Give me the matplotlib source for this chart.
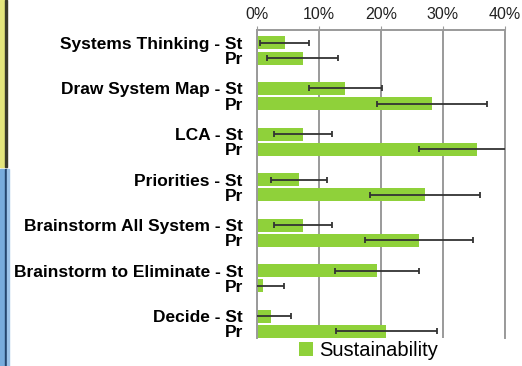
import matplotlib.pyplot as plt
from matplotlib.patches import Rectangle
from matplotlib.ticker import FuncFormatter

# Mittelwerte und Fehler (in %) je Schritt: Studierende (St) und Praktiker (Pr)
schritte = ["Systems Thinking", "Draw System Map", "LCA", "Priorities",
            "Brainstorm All System", "Brainstorm to Eliminate", "Decide"]
st_werte = [4.5, 14.3, 7.5, 6.8, 7.5, 19.4, 2.3]
st_fehler = [4.0, 5.9, 4.7, 4.5, 4.7, 6.8, 3.2]
pr_werte = [7.4, 28.2, 35.5, 27.1, 26.1, 1.0, 20.9]
pr_fehler = [5.7, 8.9, 9.4, 8.9, 8.7, 3.4, 8.1]
x_ticks = [0, 10, 20, 30, 40]

gruen = '#8fd13a'
grau = '#9a9a9a'

plt.rcParams['font.family'] = ['Liberation Sans', 'DejaVu Sans']

fig = plt.figure(figsize=(5.22, 3.66), dpi=100)
ax = fig.add_axes([0.4918, 0.0765, 0.4756, 0.8415])

# je Schritt drei Plätze: St, Pr, Lücke
pos_st = [3 * i for i in range(len(schritte))]
pos_pr = [3 * i + 1 for i in range(len(schritte))]

ax.barh(pos_st, st_werte, height=0.86, color=gruen, label='Sustainability', zorder=2)
ax.barh(pos_pr, pr_werte, height=0.86, color=gruen, zorder=2)
ax.errorbar(st_werte, pos_st, xerr=st_fehler, fmt='none', ecolor='#333333',
            elinewidth=1.3, capsize=2.5, capthick=1.3, zorder=3)
ax.errorbar(pr_werte, pos_pr, xerr=pr_fehler, fmt='none', ecolor='#333333',
            elinewidth=1.3, capsize=2.5, capthick=1.3, zorder=3)

ticks = []
labels = []
for i, s in enumerate(schritte):
    ticks += [pos_st[i], pos_pr[i]]
    labels += [s + ' - St', 'Pr']
ax.set_yticks(ticks)
ax.set_yticklabels(labels, fontsize=12.5, fontweight='bold')
ax.tick_params(axis='y', length=0, pad=10)

ax.set_xlim(0, 40)
ax.set_ylim(19.43, -0.85)
ax.set_xticks(x_ticks)
ax.xaxis.set_major_formatter(FuncFormatter(lambda v, p: '%d%%' % v))
ax.xaxis.tick_top()
ax.tick_params(axis='x', length=3, color=grau, labelsize=11.5, pad=3, labelcolor='#222222')
ax.grid(axis='x', color=grau, linewidth=1.4, zorder=0)
ax.set_axisbelow(True)

ax.spines['bottom'].set_visible(False)
for seite in ['top', 'left', 'right']:
    ax.spines[seite].set_color(grau)
    ax.spines[seite].set_linewidth(1.4)

fig.legend(loc='center', bbox_to_anchor=(0.705, 0.041), frameon=False,
           fontsize=14.5, handlelength=0.7, handleheight=0.7, handletextpad=0.3,
           borderpad=0.0, borderaxespad=0.0)

# Randstreifen links (gelb oben, blau unten)
W, H = 522.0, 366.0
fig.patches.append(Rectangle((0, 1 - 167 / H), 5 / W, 167 / H, transform=fig.transFigure,
                             color='#e4e67c', zorder=0))
fig.patches.append(Rectangle((5 / W, 1 - 167 / H), 2 / W, 167 / H, transform=fig.transFigure,
                             color='#3a3a2a', zorder=0))
fig.patches.append(Rectangle((0, 0), 5 / W, 197 / H, transform=fig.transFigure,
                             color='#78acdc', zorder=0))
fig.patches.append(Rectangle((5 / W, 0), 2 / W, 197 / H, transform=fig.transFigure,
                             color='#24466e', zorder=0))
fig.patches.append(Rectangle((7 / W, 0), 1.5 / W, 197 / H, transform=fig.transFigure,
                             color='#9cc3e8', zorder=0))

fig.savefig('out.png', dpi=100)
